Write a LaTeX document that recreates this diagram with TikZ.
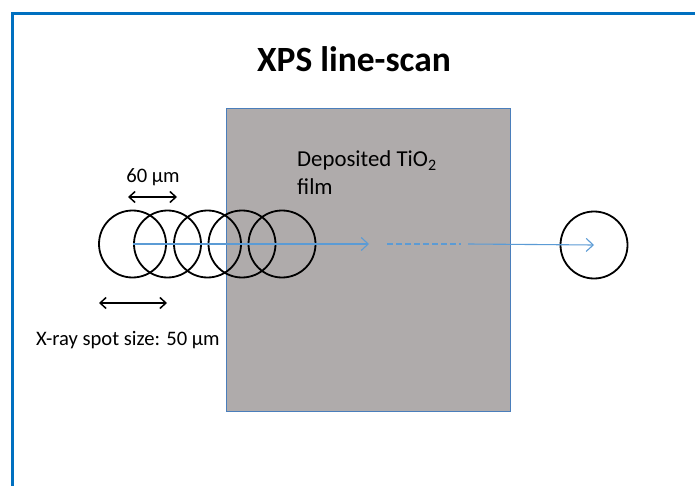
\documentclass[tikz,border=0pt]{standalone}
\usepackage{fontspec}
\setmainfont{Carlito}
\usetikzlibrary{arrows.meta}
\definecolor{framecol}{HTML}{0070C0}
\definecolor{filmfill}{HTML}{AFABAB}
\definecolor{filmedge}{HTML}{4A7EBB}
\definecolor{scanblue}{HTML}{5B9BD5}
\tikzset{
  frameline/.style={draw=framecol,line width=3.5pt},
  spot/.style={draw=black,line width=1.8pt,circle,minimum size=67pt,inner sep=0pt},
  scanline/.style={draw=scanblue,line width=1.1pt},
  scantip/.style={-{Straight Barb[length=7pt,width=13pt,line width=1.1pt]}},
  dimarrow/.style={draw=black,line width=1.5pt,{Straight Barb[length=6pt,width=11pt]}-{Straight Barb[length=6pt,width=11pt]}},
  lbl/.style={font=\fontsize{20.6}{24}\selectfont,inner sep=0pt},
  deplbl/.style={font=\fontsize{22.8}{26}\selectfont,inner sep=0pt},
}
\begin{document}
\begin{tikzpicture}[x=1pt,y=-1pt]
\useasboundingbox (0,0) rectangle (695,486);
\fill[white] (0,0) rectangle (695,486);
\draw[frameline] (12.5,486) -- (12.5,13.7) -- (695,13.7);
\node[font=\bfseries\fontsize{35.5}{40}\selectfont,inner sep=0pt,anchor=base] (title) at (354,72) {XPS line-scan};
\node[draw=filmedge,line width=0.8pt,fill=filmfill,minimum width=284pt,minimum height=303pt,inner sep=0pt,anchor=north west] (film) at (226,108) {};
\node[deplbl,anchor=base west] (dep1) at (297,167) {Deposited TiO\textsubscript{2}};
\node[deplbl,anchor=base west] (dep2) at (297,195) {film};
\node[spot] (c1) at (132.5,244) {};
\node[spot] (c2) at (167.5,244) {};
\node[spot] (c3) at (207.5,244) {};
\node[spot] (c4) at (242,244) {};
\node[spot] (c5) at (282,244) {};
\node[spot] (c6) at (594,245) {};
\coordinate (s1) at (369,244);
\coordinate (d1) at (387,244);
\coordinate (d2) at (461,244);
\coordinate (s2) at (468,244);
\draw[scanline,scantip] (c1.center) -- (s1);
\draw[scanline,dashed,dash pattern=on 6pt off 3pt] (d1) -- (d2);
\draw[scanline,scantip] (s2) -- (c6.center);
\coordinate (p1) at (128,197);
\coordinate (p2) at (177,197);
\draw[dimarrow] (p1) -- (p2);
\node[lbl,anchor=base] (pitch) at (153,183) {60 µm};
\coordinate (q1) at (99,303);
\coordinate (q2) at (167,303);
\draw[dimarrow] (q1) -- (q2);
\node[lbl,anchor=base west] (spotlbl) at (36,345) {X-ray spot size: 50 µm};
\end{tikzpicture}
\end{document}
